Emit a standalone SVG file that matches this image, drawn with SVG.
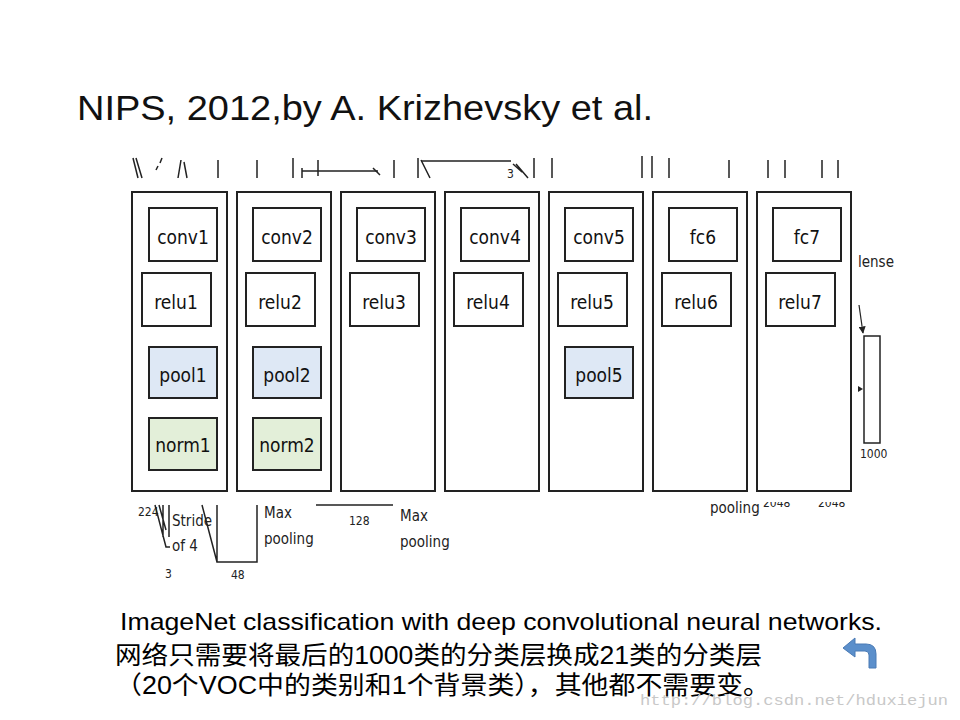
<svg xmlns="http://www.w3.org/2000/svg" width="960" height="720" viewBox="0 0 960 720">
<style>
.col{fill:#fff;stroke:#222;stroke-width:2}
.box{fill:#fff;stroke:#222;stroke-width:2}
.pool{fill:#dee8f5;stroke:#222;stroke-width:2}
.norm{fill:#e3efd9;stroke:#222;stroke-width:2}
.lbl{font-family:"Liberation Sans Narrow","DejaVu Sans Condensed","Liberation Sans",sans-serif;font-size:19px;fill:#111;text-anchor:middle}
.frag{stroke:#222;stroke-width:1.5;fill:none}
.small{font-family:"Liberation Sans Narrow","DejaVu Sans Condensed","Liberation Sans",sans-serif;font-size:15px;fill:#222}
.tiny{font-family:"Liberation Sans Narrow","DejaVu Sans Condensed","Liberation Sans",sans-serif;font-size:12px;fill:#222}
.cn{font-family:"Liberation Sans","Noto Sans CJK SC",sans-serif;font-size:25px;fill:#000}
</style>
<defs>
<marker id="ah" viewBox="0 0 10 10" refX="9" refY="5" markerWidth="6" markerHeight="6" orient="auto"><path d="M0,0 L10,5 L0,10 z" fill="#222"/></marker>
<clipPath id="clipTop"><rect x="740" y="502" width="120" height="20"/></clipPath>
</defs>
<rect width="960" height="720" fill="#fff"/>
<text x="77" y="120" font-family="Liberation Sans,sans-serif" font-size="35" fill="#111" textLength="576" lengthAdjust="spacingAndGlyphs">NIPS, 2012,by A. Krizhevsky et al.</text>

<g id="top-fragments" class="frag">
<path d="M133,158 L138,178 M136,158 L142,178 M158,166 L156,170 M162,158 L160,163 M181,160 L178,178 M184,162 L187,178"/>
<path d="M218,160 V178 M257,160 V178 M293,158 V178 M302,168 V178 M318,160 V176 M394,160 V178 M418,158 V178 M421,160 L430,178"/>
<path d="M302,171 H378 M421,161 H511"/>
<path d="M373,168 L380,175" />
<path d="M513,164 L522,172 M516,164 L528,178 M534,158 V178 M552,158 V178 M642,156 V178 M652,156 V178 M669,158 V178 M729,160 V178 M768,160 V178 M785,160 V178 M822,160 V178 M838,160 V178"/>
<text x="507" y="178" class="tiny" stroke="none">3</text>
</g>

<g id="col1">
<rect class="col" x="132" y="192" width="95" height="299"/>
<g id="conv1"><rect class="box" x="149" y="208" width="68" height="53"/><text class="lbl" x="183" y="244">conv1</text></g>
<g id="relu1"><rect class="box" x="142" y="273" width="69" height="53"/><text class="lbl" x="176" y="309">relu1</text></g>
<g id="pool1"><rect class="pool" x="149" y="347" width="68" height="51"/><text class="lbl" x="183" y="382">pool1</text></g>
<g id="norm1"><rect class="norm" x="149" y="418" width="68" height="52"/><text class="lbl" x="183" y="452">norm1</text></g>
</g>
<g id="col2">
<rect class="col" x="237" y="192" width="94" height="299"/>
<g id="conv2"><rect class="box" x="253" y="208" width="68" height="53"/><text class="lbl" x="287" y="244">conv2</text></g>
<g id="relu2"><rect class="box" x="246" y="273" width="69" height="53"/><text class="lbl" x="280" y="309">relu2</text></g>
<g id="pool2"><rect class="pool" x="253" y="347" width="68" height="51"/><text class="lbl" x="287" y="382">pool2</text></g>
<g id="norm2"><rect class="norm" x="253" y="418" width="68" height="52"/><text class="lbl" x="287" y="452">norm2</text></g>
</g>
<g id="col3">
<rect class="col" x="341" y="192" width="94" height="299"/>
<g id="conv3"><rect class="box" x="357" y="208" width="68" height="53"/><text class="lbl" x="391" y="244">conv3</text></g>
<g id="relu3"><rect class="box" x="350" y="273" width="69" height="53"/><text class="lbl" x="384" y="309">relu3</text></g>
</g>
<g id="col4">
<rect class="col" x="445" y="192" width="94" height="299"/>
<g id="conv4"><rect class="box" x="461" y="208" width="68" height="53"/><text class="lbl" x="495" y="244">conv4</text></g>
<g id="relu4"><rect class="box" x="454" y="273" width="69" height="53"/><text class="lbl" x="488" y="309">relu4</text></g>
</g>
<g id="col5">
<rect class="col" x="549" y="192" width="94" height="299"/>
<g id="conv5"><rect class="box" x="565" y="208" width="68" height="53"/><text class="lbl" x="599" y="244">conv5</text></g>
<g id="relu5"><rect class="box" x="558" y="273" width="69" height="53"/><text class="lbl" x="592" y="309">relu5</text></g>
<g id="pool5"><rect class="pool" x="565" y="347" width="68" height="51"/><text class="lbl" x="599" y="382">pool5</text></g>
</g>
<g id="col6">
<rect class="col" x="653" y="192" width="94" height="299"/>
<g id="fc6"><rect class="box" x="669" y="208" width="68" height="53"/><text class="lbl" x="703" y="244">fc6</text></g>
<g id="relu6"><rect class="box" x="662" y="273" width="69" height="53"/><text class="lbl" x="696" y="309">relu6</text></g>
</g>
<g id="col7">
<rect class="col" x="757" y="192" width="94" height="299"/>
<g id="fc7"><rect class="box" x="773" y="208" width="68" height="53"/><text class="lbl" x="807" y="244">fc7</text></g>
<g id="relu7"><rect class="box" x="766" y="273" width="69" height="53"/><text class="lbl" x="800" y="309">relu7</text></g>
</g>

<g id="dense">
<text x="858" y="267" class="small">lense</text>
<rect x="864" y="336" width="16" height="107" fill="#fff" stroke="#222" stroke-width="1.5"/>
<path d="M858,392 L863,389 L858,386 z" fill="#222"/>
<text x="860" y="458" class="tiny">1000</text>
</g>

<g id="connectors">
<path d="M859,305 L863,333" stroke="#222" stroke-width="1.2" fill="none" marker-end="url(#ah)"/>
</g>

<g id="bottom-fragments">
<path class="frag" d="M155,505 L166,547 H170 M159,505 L166,530 M163,505 V537 M169,505 V537 M202,505 L217,562 M217,505 V562 H257 V505 M316,505 H393"/>
<text x="138" y="516" class="tiny">224</text>
<text x="172" y="526" class="small">Stride</text>
<text x="172" y="551" class="small">of 4</text>
<text x="165" y="578" class="tiny">3</text>
<text x="231" y="579" class="tiny">48</text>
<text x="264" y="518" class="small">Max</text>
<text x="264" y="544" class="small">pooling</text>
<text x="349" y="525" class="tiny">128</text>
<text x="400" y="521" class="small">Max</text>
<text x="400" y="547" class="small">pooling</text>
<text x="710" y="513" class="small">pooling</text>
<g clip-path="url(#clipTop)">
<text x="763" y="507" class="tiny">2048</text>
<text x="818" y="507" class="tiny">2048</text>
</g>
</g>

<text x="120" y="630" font-family="Liberation Sans,sans-serif" font-size="24" fill="#000" textLength="762" lengthAdjust="spacingAndGlyphs">ImageNet classification with deep convolutional neural networks.</text>
<text x="115" y="664" class="cn" textLength="647" lengthAdjust="spacingAndGlyphs">网络只需要将最后的1000类的分类层换成21类的分类层</text>
<text x="115" y="694" class="cn" textLength="655" lengthAdjust="spacingAndGlyphs">（20个VOC中的类别和1个背景类），其他都不需要变。</text>

<g id="return-icon">
<path d="M843,648 L855,638 L855,644 H866 Q876,644 876,654 V668 H869 V655 Q869,651 865,651 H855 V657 z" fill="#5b8fcb" stroke="#4a7ab5" stroke-width="1"/>
</g>

<text x="640" y="705" font-family="Liberation Mono,monospace" font-size="14" fill="#c8c8c8" textLength="308" lengthAdjust="spacingAndGlyphs">http://blog.csdn.net/hduxiejun</text>
</svg>
